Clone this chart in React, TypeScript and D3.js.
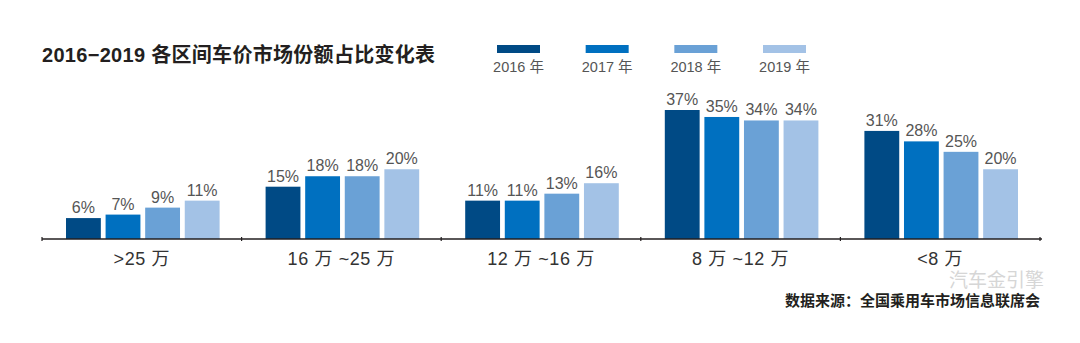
import React from "react";
import * as d3 from "d3";

const categories = [">25 万", "16 万 ~25 万", "12 万 ~16 万", "8 万 ~12 万", "<8 万"];
const years = ["2016 年", "2017 年", "2018 年", "2019 年"];
const colors = ["#004a85", "#0070c0", "#6aa1d6", "#a3c2e6"];
const s2016 = [6, 15, 11, 37, 31];
const s2017 = [7, 18, 11, 35, 28];
const s2018 = [9, 18, 13, 34, 25];
const s2019 = [11, 20, 16, 34, 20];
const series = [s2016, s2017, s2018, s2019];

const W = 1080, H = 343;
const font = "'Liberation Sans', 'Noto Sans CJK SC', sans-serif";

export default function App() {
  const x0 = d3.scaleBand().domain(categories).range([42, 1040]).paddingInner(0).paddingOuter(0);
  const inner = d3.scaleBand().domain(years).range([24, x0.bandwidth() - 22]).paddingInner(0.12).paddingOuter(0);
  const y = d3.scaleLinear().domain([0, 37]).range([239, 110]);
  const baseY = y(0);
  const ticks = [...categories.map((c) => x0(c)!), 1040];
  const legendX = d3.scaleLinear().domain([0, 3]).range([497, 763]);

  return (
    <svg width={W} height={H} style={{ position: "fixed", left: 0, top: 0, background: "#fff" }} fontFamily={font}>
      <rect width={W} height={H} fill="#fff" />
      <text x={42} y={62} fontSize={20} fontWeight={700} fill="#231f20" letterSpacing={0.3}>2016−2019 各区间车价市场份额占比变化表</text>
      {years.map((yr, i) => (
        <g key={yr}>
          <rect x={legendX(i)} y={45} width={43} height={8} fill={colors[i]} />
          <text x={legendX(i) + 21.5} y={72} fontSize={14.5} textAnchor="middle" fill="#555">{yr}</text>
        </g>
      ))}
      {categories.map((c, ci) => (
        <g key={c} transform={`translate(${x0(c)},0)`}>
          {series.map((s, si) => (
            <g key={si}>
              <rect x={inner(years[si])} y={y(s[ci])} width={inner.bandwidth()} height={baseY - y(s[ci])} fill={colors[si]} />
              <text x={inner(years[si])! + inner.bandwidth() / 2} y={y(s[ci]) - 5} fontSize={16} textAnchor="middle" fill="#555">{s[ci]}%</text>
            </g>
          ))}
          <text x={x0.bandwidth() / 2} y={265} fontSize={18} letterSpacing={0.6} textAnchor="middle" fill="#333">{c}</text>
        </g>
      ))}
      <line x1={42} x2={1042} y1={baseY} y2={baseY} stroke="#231f20" strokeWidth={1.6} />
      {ticks.map((t, i) => (
        <line key={i} x1={t} x2={t} y1={baseY - 2} y2={baseY + 2} stroke="#231f20" strokeWidth={1.2} />
      ))}
      <text x={1040} y={306} fontSize={15} fontWeight={700} textAnchor="end" fill="#231f20">数据来源：全国乘用车市场信息联席会</text>
      <text x={1044} y={287} fontSize={19} textAnchor="end" fill="#bbb" opacity={0.6}>汽车金引擎</text>
    </svg>
  );
}
